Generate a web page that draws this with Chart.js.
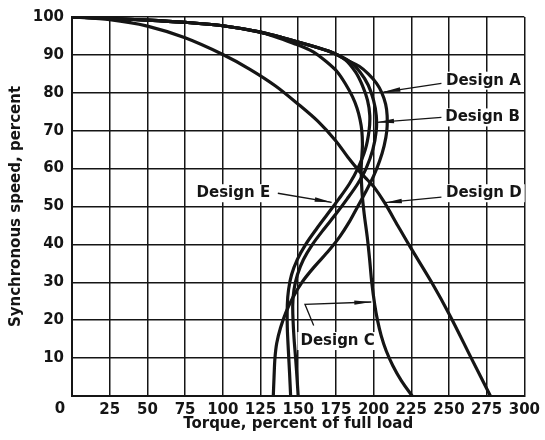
<!DOCTYPE html>
<html>
<head>
<meta charset="utf-8">
<script src="https://cdn.jsdelivr.net/npm/chart.js@4.4.1/dist/chart.umd.min.js"></script>
<style>
  html, body { margin: 0; padding: 0; background: #ffffff; }
  canvas { display: block; }
</style>
</head>
<body>
<canvas id="chart" width="545" height="440"></canvas>
<script>
// Axis ticks
const torqueTicks = [0, 25, 50, 75, 100, 125, 150, 175, 200, 225, 250, 275, 300];
const speedTicks = [0, 10, 20, 30, 40, 50, 60, 70, 80, 90, 100];

// Torque (percent of full load) against synchronous speed (percent), per NEMA design
const designATorque = [0, 25, 50, 75, 100, 125, 150, 170, 184, 190.5, 196.5, 202, 205.5, 208, 209, 208.8, 207, 204, 200, 195, 189.5, 184, 177.5, 169.5, 160.5, 152.5, 146.5, 141.8, 138.3, 135.8, 134.6, 134, 133.5];
const designASpeed  = [100, 99.6, 99.2, 98.6, 97.7, 96, 93.4, 91, 88.3, 87, 85, 82.5, 80, 77, 74, 70, 66, 62, 58, 54, 50, 46, 42, 38, 34, 30, 26, 22, 18, 14, 10, 5, 0];

const designBTorque = [0, 25, 50, 75, 100, 125, 150, 170, 184, 191, 196.5, 200, 201.8, 201.8, 199.5, 195, 189.5, 182.5, 175, 167, 159.5, 153.5, 149.5, 147.2, 146.4, 146.6, 147.3, 148.3, 149.2, 150];
const designBSpeed  = [100, 99.6, 99.2, 98.6, 97.7, 96, 93.4, 91, 88.3, 85.5, 82, 78, 74, 70, 65, 60, 56, 52, 48, 44, 40, 36, 32, 28, 24, 20, 15, 10, 5, 0];

const designCTorque = [0, 25, 50, 75, 100, 125, 148.6, 160, 168.4, 176, 181.6, 186, 189, 191, 192.2, 192.6, 191.8, 192.3, 193.8, 195.8, 197.4, 198.8, 200.8, 202.6, 205, 208.3, 212.8, 218.5, 225.6];
const designCSpeed  = [100, 99.6, 99.2, 98.6, 97.7, 96, 92.8, 90.8, 88.3, 85.5, 82.2, 79, 76, 73, 70, 66, 60, 54, 48, 42, 36, 30, 24, 20, 16, 12, 8, 4, 0];

const designDTorque = [0, 25, 50, 75, 100, 118, 135, 150, 163, 175, 183, 190.4, 196, 200, 207.3, 216, 224.5, 238.5, 250.7, 264.8, 277.5];
const designDSpeed  = [100, 99.3, 97.6, 94.5, 90.1, 86.2, 81.8, 77, 72.5, 67.3, 63, 59.4, 57, 55.3, 51, 45, 39.2, 30, 21.2, 10, 0];

const designETorque = [0, 25, 50, 75, 100, 125, 150, 170, 181, 188, 192.5, 196, 197.5, 197, 194.5, 189.5, 184, 177, 169.5, 162, 155, 149.4, 145.6, 143.6, 142.8, 142.8, 143.5, 144.3, 145];
const designESpeed  = [100, 99.6, 99.2, 98.6, 97.7, 96, 93.4, 91, 88.8, 85.5, 82, 78, 74, 70, 65, 60, 56, 52, 48, 44, 40, 36, 32, 28, 24, 18, 12, 6, 0];

// Curve callouts: text anchor (left edge, middle) and leader path ending in an arrow, in data units
const designLabels = [
  { text: 'Design A', at: [248, 83.2], leader: [[245, 82.5], [206.5, 80.2]] },
  { text: 'Design B', at: [247.5, 73.5], leader: [[245, 73.5], [202.3, 72.2]] },
  { text: 'Design D', at: [248, 53.5], leader: [[245, 52.5], [207.5, 51]] },
  { text: 'Design E', at: [82.6, 53.5], leader: [[136.5, 53.5], [172.2, 51.1]] },
  { text: 'Design C', at: [151.5, 14.5], leader: [[160.3, 18.6], [154.5, 24.2], [198.5, 24.8]] }
];

const INK = '#151515';
const FONT = '"DejaVu Sans", "Liberation Sans", sans-serif';

function toPoints(xs, ys) {
  return xs.map((v, i) => ({ x: v, y: ys[i] }));
}

function curve(label, xs, ys) {
  return {
    label: label,
    data: toPoints(xs, ys),
    showLine: true,
    borderColor: INK,
    backgroundColor: INK,
    borderWidth: 3.2,
    pointRadius: 0,
    tension: 0.3,
    fill: false
  };
}

const calloutPlugin = {
  id: 'designCallouts',
  beforeDatasetsDraw(chart) {
    const { ctx, scales: { x, y } } = chart;
    ctx.save();
    ctx.font = 'bold 15px ' + FONT;
    ctx.textBaseline = 'middle';
    ctx.textAlign = 'left';
    for (const lb of designLabels) {
      const px = x.getPixelForValue(lb.at[0]);
      const py = y.getPixelForValue(lb.at[1]);
      const w = ctx.measureText(lb.text).width;
      ctx.fillStyle = '#ffffff';
      ctx.fillRect(px - 3, py - 9, w + 6, 18);
      ctx.fillStyle = INK;
      ctx.fillText(lb.text, px, py);
    }
    ctx.restore();
  },
  afterDatasetsDraw(chart) {
    const { ctx, scales: { x, y } } = chart;
    ctx.save();
    ctx.strokeStyle = INK;
    ctx.fillStyle = INK;
    ctx.lineWidth = 1.3;
    for (const lb of designLabels) {
      const pts = lb.leader.map(p => [x.getPixelForValue(p[0]), y.getPixelForValue(p[1])]);
      ctx.beginPath();
      ctx.moveTo(pts[0][0], pts[0][1]);
      for (let i = 1; i < pts.length; i++) ctx.lineTo(pts[i][0], pts[i][1]);
      ctx.stroke();
      // arrowhead at the curve end
      const tip = pts[pts.length - 1];
      const prev = pts[pts.length - 2];
      const dx = tip[0] - prev[0], dy = tip[1] - prev[1];
      const len = Math.hypot(dx, dy);
      const ux = dx / len, uy = dy / len;
      const bx = tip[0] - ux * 17, by = tip[1] - uy * 17;
      const nx = -uy * 2.2, ny = ux * 2.2;
      ctx.beginPath();
      ctx.moveTo(tip[0], tip[1]);
      ctx.lineTo(bx + nx, by + ny);
      ctx.lineTo(bx - nx, by - ny);
      ctx.closePath();
      ctx.fill();
    }
    ctx.restore();
  },
  afterDraw(chart) {
    // origin label sits left of the first torque gridline
    const { ctx, scales: { x } } = chart;
    ctx.save();
    ctx.font = 'bold 15px ' + FONT;
    ctx.fillStyle = INK;
    ctx.textAlign = 'center';
    ctx.textBaseline = 'middle';
    ctx.fillText(String(torqueTicks[0]), x.getPixelForValue(torqueTicks[0]) - 12, 409);
    ctx.restore();
  }
};

new Chart(document.getElementById('chart'), {
  type: 'scatter',
  data: {
    datasets: [
      curve('Design A', designATorque, designASpeed),
      curve('Design B', designBTorque, designBSpeed),
      curve('Design C', designCTorque, designCSpeed),
      curve('Design D', designDTorque, designDSpeed),
      curve('Design E', designETorque, designESpeed)
    ]
  },
  options: {
    responsive: false,
    animation: false,
    devicePixelRatio: 1,
    layout: { padding: { top: 16, right: 19, left: 0, bottom: 0 } },
    plugins: {
      legend: { display: false },
      tooltip: { enabled: false }
    },
    scales: {
      x: {
        type: 'linear',
        min: torqueTicks[0],
        max: torqueTicks[torqueTicks.length - 1],
        afterBuildTicks(scale) { scale.ticks = torqueTicks.map(v => ({ value: v })); },
        afterFit(scale) { scale.height = 44; },
        grid: { color: INK, lineWidth: 1.5, drawTicks: false },
        border: { color: INK, width: 2 },
        ticks: {
          padding: 5,
          color: INK,
          font: { family: FONT, size: 15, weight: 'bold' },
          maxRotation: 0,
          autoSkip: false,
          callback: v => (v === torqueTicks[0] ? '' : String(v))
        },
        title: {
          display: true,
          text: 'Torque, percent of full load',
          color: INK,
          font: { family: FONT, size: 15, weight: 'bold' },
          padding: { top: 7, bottom: 7 }
        }
      },
      y: {
        type: 'linear',
        min: speedTicks[0],
        max: speedTicks[speedTicks.length - 1],
        afterBuildTicks(scale) { scale.ticks = speedTicks.map(v => ({ value: v })); },
        afterFit(scale) { scale.width = 72; },
        grid: { color: INK, lineWidth: 1.5, drawTicks: false },
        border: { color: INK, width: 2 },
        ticks: {
          padding: 8,
          color: INK,
          font: { family: FONT, size: 15, weight: 'bold' },
          autoSkip: false,
          callback: v => (v === speedTicks[0] ? '' : String(v))
        },
        title: {
          display: true,
          text: 'Synchronous speed, percent',
          color: INK,
          font: { family: FONT, size: 15, weight: 'bold' },
          padding: { top: 7, bottom: 7 }
        }
      }
    }
  },
  plugins: [calloutPlugin]
});
</script>
</body>
</html>
